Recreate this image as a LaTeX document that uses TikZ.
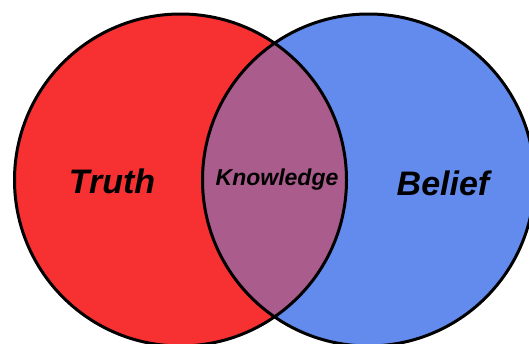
\documentclass[tikz,border=0pt]{standalone}
\usepackage{fontspec}
\setmainfont{Liberation Sans}
\usepackage{tikz}
\usetikzlibrary{positioning}
\definecolor{truthcol}{RGB}{247,49,49}
\definecolor{beliefcol}{RGB}{99,139,237}
\definecolor{knowcol}{RGB}{170,92,140}
\tikzset{>=latex}
\tikzset{
  bigword/.style={font=\bfseries\itshape\fontsize{34}{40}\selectfont},
  smallword/.style={font=\bfseries\itshape\fontsize{23}{28}\selectfont}
}

\begin{document}
\begin{tikzpicture}[x=1pt, y=-1pt, line width=3pt]

% Frame
\useasboundingbox (0,0) rectangle (529,343);

% Centres
\coordinate (T) at (180.5,180);
\coordinate (B) at (368.5,180);

% Discs
\fill[truthcol] (T) circle (166);
\fill[beliefcol] (B) circle (166);

% Overlap
\begin{scope}
  \clip (T) circle (166);
  \fill[knowcol] (B) circle (166);
\end{scope}

% Outlines
\draw (T) circle (166);
\draw (B) circle (166);

% Labels
\node[bigword] (truth) at (112,181) {Truth};
\node[smallword] (know) at (277,180) {Knowledge};
\node[bigword] (belief) at (443,183) {Belief};

\end{tikzpicture}
\end{document}
